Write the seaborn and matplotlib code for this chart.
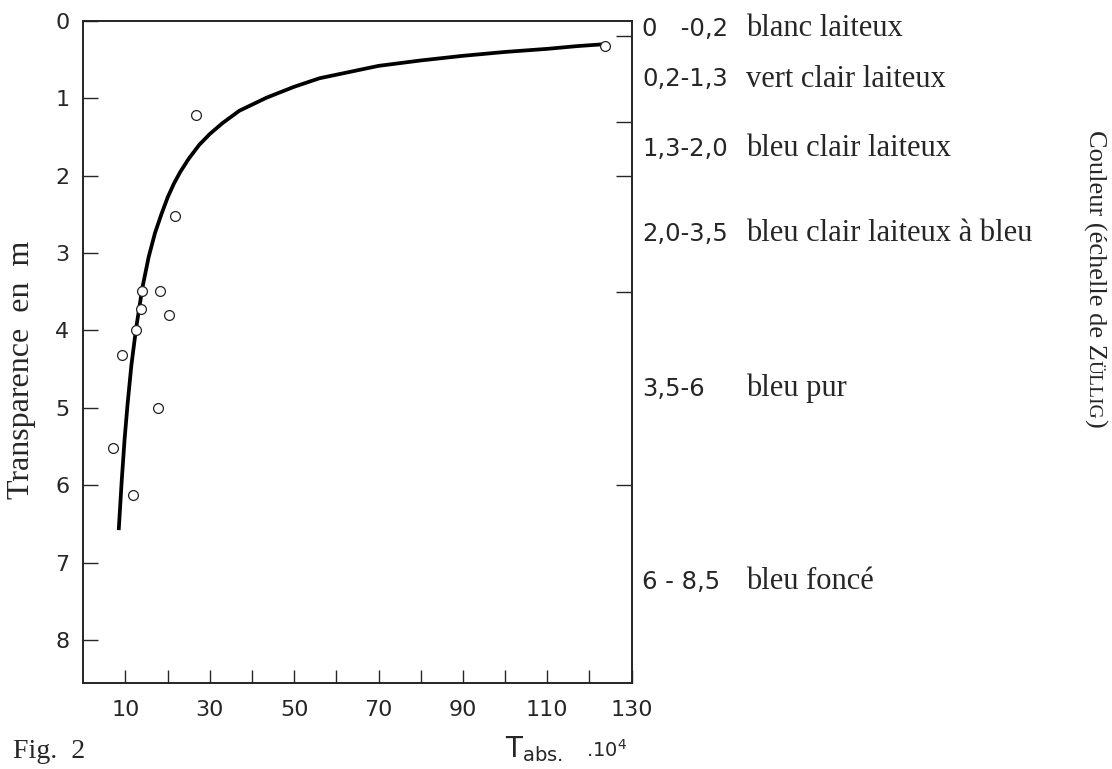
import numpy as np
import pandas as pd
import seaborn as sns
import matplotlib
matplotlib.use("Agg")
import matplotlib.pyplot as plt

# donnees lues sur la figure
# points mesures : T abs. (x 10^4) et transparence (m)
t_abs = [26.8, 21.8, 14.0, 18.1, 13.6, 20.4, 12.5, 9.2, 17.7, 7.1, 11.9, 123.8]
transp = [1.21, 2.52, 3.49, 3.49, 3.72, 3.80, 4.00, 4.32, 5.00, 5.52, 6.13, 0.32]

# courbe tracee a la main (points releves le long du trait)
courbe_t = [8.4, 9.1, 9.8, 10.5, 11.4, 12.5, 14.0, 15.5, 17.0, 18.5, 20.0,
            21.5, 23.0, 25.0, 27.5, 30.0, 33.0, 37.0, 43.5, 50.0, 56.0,
            63.0, 70.0, 80.0, 90.0, 100.0, 110.0, 117.0, 123.5]
courbe_y = [6.58, 5.95, 5.4, 4.95, 4.45, 3.98, 3.45, 3.05, 2.74, 2.5, 2.28,
            2.1, 1.95, 1.78, 1.6, 1.46, 1.32, 1.16, 0.99, 0.85, 0.74,
            0.66, 0.58, 0.51, 0.45, 0.40, 0.36, 0.325, 0.30]

# echelle de couleur de Züllig
zones = [0, 0.2, 1.3, 2.0, 3.5, 6, 8.5]
zones_txt = ["0   -0,2", "0,2-1,3", "1,3-2,0", "2,0-3,5", "3,5-6", "6 - 8,5"]
couleurs = ["blanc laiteux", "vert clair laiteux", "bleu clair laiteux",
            "bleu clair laiteux à bleu", "bleu pur", "bleu foncé"]

xticks = [10, 20, 30, 40, 50, 60, 70, 80, 90, 100, 110, 120, 130]
xlabels = ["10", "", "30", "", "50", "", "70", "", "90", "", "110", "", "130"]
yticks = [0, 1, 2, 3, 4, 5, 6, 7, 8]

points = pd.DataFrame({"t": t_abs, "y": transp})
courbe = pd.DataFrame({"t": courbe_t, "y": courbe_y})

sns.set_style("ticks")
plt.rcParams["font.family"] = ["DejaVu Sans"]
serif = ["Liberation Serif", "DejaVu Serif"]

fig = plt.figure(figsize=(11.12, 7.69), dpi=100)
ax = fig.add_axes([0.0749, 0.1114, 0.4931, 0.8613])

sns.lineplot(data=courbe, x="t", y="y", sort=False, estimator=None,
             color="black", linewidth=2.7, ax=ax)
ax.lines[0].set_solid_joinstyle("round")
ax.lines[0].set_solid_capstyle("butt")
sns.scatterplot(data=points, x="t", y="y", s=50, marker="o",
                facecolor="white", edgecolor="#222222", linewidth=0.9,
                ax=ax, zorder=3)

ax.set_xlim(0, 130)
ax.set_ylim(8.56, 0)
ax.set_xticks(xticks)
ax.set_xticklabels(xlabels)
ax.set_yticks(yticks)
ax.set_yticklabels([str(v) for v in yticks])
ax.set_xlabel("")
ax.set_ylabel("")
ax.tick_params(axis="x", direction="in", length=9.5, width=1.0,
               labelsize=16, pad=12)
ax.tick_params(axis="y", direction="in", length=11, width=1.0,
               labelsize=16, pad=10)
for s in ax.spines.values():
    s.set_linewidth(1.1)
    s.set_color("black")

# axe de droite : limites des classes de couleur
ax2 = ax.twinx()
ax2.set_ylim(ax.get_ylim())
ax2.set_yticks(zones[1:-1])
ax2.set_yticklabels([])
ax2.tick_params(axis="y", direction="in", length=11.5, width=1.0)
for s in ax2.spines.values():
    s.set_linewidth(1.1)

tr = ax.get_yaxis_transform()
for i in range(len(couleurs)):
    milieu = (zones[i] + zones[i + 1]) / 2
    ax.text(1.019, milieu, zones_txt[i], transform=tr, va="center",
            ha="left", fontsize=17.5, clip_on=False)
    ax.text(1.208, milieu, couleurs[i], transform=tr, va="center",
            ha="left", fontsize=22, family=serif, clip_on=False)

fig.text(22 / 1112, 1 - 370 / 769, "Transparence  en  m", rotation=90,
         ha="center", va="center", fontsize=23, family=serif)

# titre de droite en petites capitales
t1 = fig.text(0.979, 0.831, "Couleur (échelle de Z", rotation=270,
              rotation_mode="anchor", ha="left", va="baseline",
              fontsize=19, family=serif)
t2 = ax.annotate("ÜLLIG", xy=(0.979, 0), xycoords=("figure fraction", t1),
                 rotation=270, rotation_mode="anchor", ha="left",
                 va="baseline", fontsize=14, family=serif,
                 annotation_clip=False)
ax.annotate(")", xy=(0.979, 0), xycoords=("figure fraction", t2),
            rotation=270, rotation_mode="anchor", ha="left", va="baseline",
            fontsize=19, family=serif, annotation_clip=False)

fig.text(13 / 1112, 1 - 758 / 769, "Fig.  2", fontsize=20, family=serif,
         va="baseline")
fig.text(505 / 1112, 1 - 757 / 769, r"$\mathregular{T_{abs.}}$",
         fontsize=20, va="baseline")
fig.text(586 / 1112, 1 - 757 / 769, r".10$^{\mathregular{4}}$",
         fontsize=14, va="baseline")

plt.savefig("out.png", dpi=100)
